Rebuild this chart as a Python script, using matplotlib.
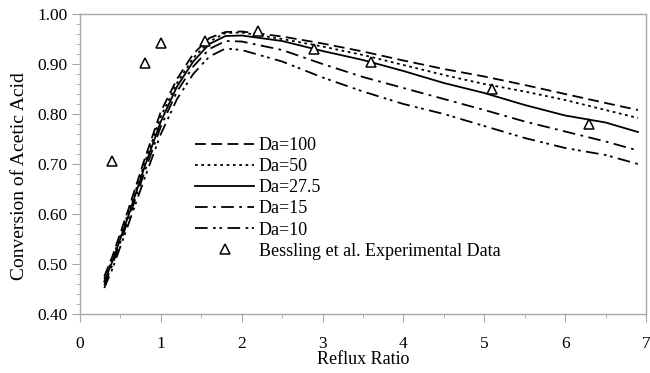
import numpy as np
import matplotlib
matplotlib.use("Agg")
from matplotlib import pyplot as plt
from matplotlib.legend_handler import HandlerLine2D

# reflux ratio grid used for the simulated curves
reflux = [0.3, 0.4, 0.6, 0.8, 1.0, 1.2, 1.4, 1.6, 1.8, 2.0,
          2.5, 3.0, 3.5, 4.0, 4.5, 5.0, 5.5, 6.0, 6.5, 6.9]

da_100 = [0.475, 0.515, 0.610, 0.710, 0.805, 0.870, 0.920, 0.952, 0.964, 0.965,
          0.955, 0.941, 0.925, 0.907, 0.890, 0.875, 0.858, 0.840, 0.822, 0.808]
da_50 = [0.470, 0.510, 0.603, 0.702, 0.795, 0.862, 0.912, 0.945, 0.962, 0.963,
         0.950, 0.935, 0.918, 0.898, 0.878, 0.860, 0.845, 0.828, 0.808, 0.792]
da_27_5 = [0.465, 0.505, 0.597, 0.695, 0.785, 0.855, 0.905, 0.940, 0.956, 0.957,
           0.946, 0.926, 0.908, 0.886, 0.862, 0.842, 0.818, 0.797, 0.783, 0.764]
da_15 = [0.458, 0.498, 0.590, 0.685, 0.775, 0.845, 0.895, 0.930, 0.946, 0.945,
         0.928, 0.900, 0.874, 0.852, 0.830, 0.808, 0.785, 0.765, 0.745, 0.727]
da_10 = [0.452, 0.490, 0.580, 0.672, 0.760, 0.830, 0.880, 0.915, 0.931, 0.928,
         0.905, 0.873, 0.845, 0.820, 0.800, 0.776, 0.752, 0.732, 0.718, 0.700]

# experimental points (Bessling et al.)
exp_x = [0.4, 0.8, 1.0, 1.55, 2.2, 2.9, 3.6, 5.1, 6.3]
exp_y = [0.707, 0.902, 0.942, 0.946, 0.966, 0.930, 0.904, 0.850, 0.780]

labels = ["Da=100", "Da=50", "Da=27.5", "Da=15", "Da=10"]
styles = [(0, (6, 3)), (0, (1.5, 2)), "-", (0, (7, 3, 1.5, 3)),
          (0, (7, 3, 1.5, 2, 1.5, 3))]


class MarkerLeft(HandlerLine2D):
    # put the single legend marker left of centre
    def get_xdata(self, legend, xdescent, ydescent, width, height, fontsize):
        xdata, _ = super().get_xdata(legend, xdescent, ydescent,
                                     width, height, fontsize)
        return xdata, [-xdescent + 0.3 * width]


plt.rcParams["font.family"] = ["Liberation Serif", "DejaVu Serif"]

fig = plt.figure(figsize=(6.5, 3.73), dpi=100)
ax = fig.add_axes([80 / 650, 1 - 314 / 373, 566 / 650, 300 / 373])

for ys, lab, ls in zip([da_100, da_50, da_27_5, da_15, da_10], labels, styles):
    ax.plot(reflux, ys, color="black", lw=1.3, linestyle=ls, label=lab)

pts, = ax.plot(exp_x, exp_y, linestyle="none", marker="^", markersize=7,
               markerfacecolor="white", markeredgecolor="black",
               markeredgewidth=1.1, label="Bessling et al. Experimental Data")

ax.set_xlim(0, 7)
ax.set_ylim(0.4, 1.0)
ax.set_xticks(np.arange(0, 8, 1))
ax.set_xticks(np.arange(0.5, 7, 1), minor=True)
ax.set_yticks(np.arange(0.4, 1.01, 0.1))
ax.set_yticks(np.arange(0.4, 1.001, 0.02), minor=True)
ax.set_yticklabels(["%.2f" % v for v in np.arange(0.4, 1.01, 0.1)])

for sp in ax.spines.values():
    sp.set_color("#a6a6a6")
    sp.set_linewidth(1.0)
ax.tick_params(which="major", direction="out", length=6, color="#a6a6a6",
               labelsize=12.5, pad=3)
ax.tick_params(which="minor", direction="out", length=3, color="#a6a6a6")
ax.tick_params(axis="x", which="major", pad=10)

ax.set_xlabel("Reflux Ratio", fontsize=13, labelpad=-1)
ax.set_ylabel("Conversion of Acetic Acid", fontsize=14)
ax.yaxis.set_label_coords(-0.092, 0.46)

ax.legend(loc="upper left", bbox_to_anchor=(0.203, 0.59), frameon=False,
          handlelength=3.3, handletextpad=0.25, labelspacing=0.23,
          borderpad=0, borderaxespad=0, numpoints=1, fontsize=13,
          handler_map={pts: MarkerLeft(numpoints=1)})

fig.savefig("out.png", dpi=100)
